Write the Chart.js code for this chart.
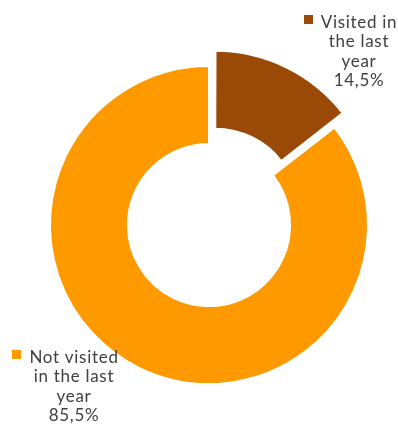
<!DOCTYPE html>
<html>
<head>
<meta charset="utf-8">
<script src="https://cdn.jsdelivr.net/npm/chart.js@4.4.1/dist/chart.umd.min.js"></script>
<style>
  html, body { margin: 0; padding: 0; background: #ffffff; }
  #wrap { width: 398px; height: 425px; position: relative; }
</style>
</head>
<body>
<div id="wrap"><canvas id="c" width="398" height="425"></canvas></div>
<script>
const categories = ['Visited in the last year', 'Not visited in the last year'];
const labelLines = [['Visited in', 'the last', 'year'], ['Not visited', 'in the last', 'year']];
const values = [14.5, 85.5];
const valueLabels = ['14,5%', '85,5%'];
const sliceColors = ['#9A4A06', '#FF9900'];

const labelPlugin = {
  id: 'sliceLabels',
  afterDatasetsDraw(chart) {
    const ctx = chart.ctx;
    const meta = chart.getDatasetMeta(0);
    const first = meta.data[0];
    const cx = first.x, cy = first.y;
    const place = [ {dx: 150, dy: -197}, {dx: -135, dy: 138} ];
    const lineH = 19.4;
    ctx.save();
    ctx.font = '17px Lato, "Open Sans", sans-serif';
    try { ctx.letterSpacing = '0.7px'; } catch (e) {}
    ctx.fillStyle = '#404040';
    ctx.textAlign = 'center';
    ctx.textBaseline = 'alphabetic';
    meta.data.forEach((arc, i) => {
      const lines = labelLines[i].concat([valueLabels[i]]);
      const tx = cx + place[i].dx;
      const ty = cy + place[i].dy;
      lines.forEach((ln, k) => ctx.fillText(ln, tx, Math.round(ty + k * lineH)));
      const w = ctx.measureText(lines[0]).width;
      ctx.fillStyle = sliceColors[i];
      ctx.fillRect(Math.round(tx - w / 2 - 17), ty - 13, 9, 9);
      ctx.fillStyle = '#404040';
    });
    ctx.restore();
  }
};

new Chart(document.getElementById('c'), {
  type: 'doughnut',
  data: {
    labels: categories,
    datasets: [{
      data: values,
      backgroundColor: sliceColors,
      borderColor: '#ffffff',
      borderWidth: 2,
      offset: [55, 0],
      hoverOffset: 0
    }]
  },
  options: {
    responsive: false,
    animation: false,
    radius: 159,
    cutout: '51%',
    layout: { padding: { left: 20, right: 0, top: 25, bottom: 0 } },
    plugins: { legend: { display: false }, tooltip: { enabled: false } },
    events: []
  },
  plugins: [labelPlugin]
});
</script>
</body>
</html>
